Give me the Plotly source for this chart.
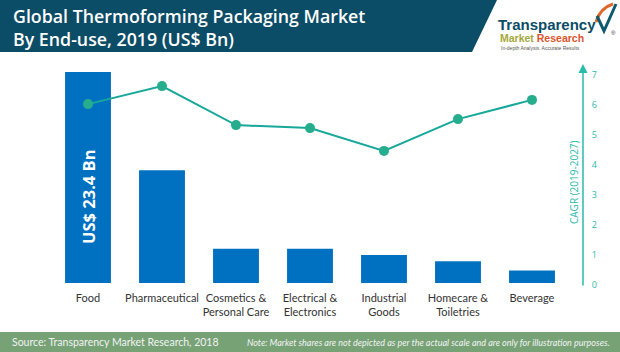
import plotly.graph_objects as go

categories = ["Food", "Pharmaceutical", "Cosmetics &<br>Personal Care", "Electrical &<br>Electronics",
              "Industrial<br>Goods", "Homecare &<br>Toiletries", "Beverage"]
market_value = [23.4, 12.5, 3.8, 3.8, 3.1, 2.4, 1.4]   # US$ Bn (illustrative scale)
cagr = [6.03, 6.63, 5.33, 5.23, 4.47, 5.53, 6.17]       # % CAGR 2019-2027
cagr_ticks = [0, 1, 2, 3, 4, 5, 6, 7]

W, H = 620, 352
ML, MR, MT, MB = 51, 37, 60, 62
PW, PH = W - ML - MR, H - MT - MB


def px(x):
    return (x - ML) / PW


def py(y):
    return (H - MB - y) / PH


BAR = "#0070C0"
TEAL = "#17A89B"
TEAL_M = "#26AD8E"
TEAL_AX = "#2BBBAA"
HEADER = "#0B4C66"
FOOTER = "#76A276"

fig = go.Figure()
fig.add_trace(go.Bar(x=categories, y=market_value, marker=dict(color=BAR, line=dict(width=0)),
                     yaxis="y", hoverinfo="skip"))
fig.add_trace(go.Scatter(x=categories, y=cagr, yaxis="y2", mode="lines+markers",
                         line=dict(color=TEAL, width=2),
                         marker=dict(color=TEAL_M, size=10)))

shapes = [
    dict(type="path", xref="paper", yref="paper", layer="below",
         path=f"M {px(0)},{py(0)} L {px(497)},{py(0)} L {px(472)},{py(52)} L {px(0)},{py(52)} Z",
         fillcolor=HEADER, line=dict(width=0)),
    dict(type="rect", xref="paper", yref="paper", layer="below",
         x0=px(0), x1=px(620), y0=py(332), y1=py(352), fillcolor=FOOTER, line=dict(width=0)),
    # logo check mark
    dict(type="path", xref="paper", yref="paper",
         path=f"M {px(596)},{py(22)} Q {px(600)},{py(8)} {px(613)},{py(4)}",
         line=dict(color="#E0662A", width=3)),
    dict(type="path", xref="paper", yref="paper",
         path=f"M {px(597)},{py(16)} L {px(604)},{py(31)} L {px(616)},{py(4)}",
         line=dict(color="#0B5A6E", width=3)),
]

annotations = [
    dict(text="Global Thermoforming Packaging Market<br>By End-use, 2019 (US$ Bn)",
         xref="paper", yref="paper", x=px(11), y=py(2), xanchor="left", yanchor="top",
         align="left", showarrow=False,
         font=dict(family="Open Sans", size=17.8, color="white", weight=600)),
    dict(text="<b>Transparency</b>", xref="paper", yref="paper", x=px(496), y=py(24),
         xanchor="left", yanchor="middle", showarrow=False,
         font=dict(family="Liberation Sans", size=15, color="#0B4C66")),
    dict(text="<b><span style='color:#A3A83C'>Market</span> <span style='color:#D9542C'>Research</span></b>",
         xref="paper", yref="paper", x=px(498), y=py(38), xanchor="left", yanchor="middle",
         showarrow=False, font=dict(family="Liberation Sans", size=10.5)),
    dict(text="In-depth Analysis. Accurate Results", xref="paper", yref="paper", x=px(499), y=py(48),
         xanchor="left", yanchor="middle", showarrow=False,
         font=dict(family="Liberation Sans", size=5, color="#555555")),
    dict(text="®", xref="paper", yref="paper", x=px(613), y=py(33), xanchor="center", yanchor="middle",
         showarrow=False, font=dict(family="Liberation Sans", size=6, color="#333333")),
    dict(text="<b>US$ 23.4 Bn</b>", xref="x", yref="paper", x=categories[0], y=py(197),
         textangle=-90, showarrow=False, xanchor="center", yanchor="middle",
         font=dict(family="Open Sans", size=16.5, color="white")),
    dict(text="CAGR (2019-2027)", xref="paper", yref="paper", x=px(574), y=py(182),
         textangle=-90, showarrow=False, xanchor="center", yanchor="middle",
         font=dict(family="Open Sans", size=10, color=TEAL_AX)),
    dict(text="", xref="paper", yref="y2", x=1, y=(285 - 64) / 30, ax=0, ay=223,
         showarrow=True, arrowhead=2, arrowsize=1.2, arrowwidth=1.5, arrowcolor=TEAL_AX),
    dict(text="Source: Transparency Market Research, 2018", xref="paper", yref="paper",
         x=px(10), y=py(342), xanchor="left", yanchor="middle", showarrow=False,
         font=dict(family="Lato", size=10.5, color="#F2F2F2")),
    dict(text="<i>Note: Market shares are not depicted as per the actual scale and are only for illustration purposes.</i>",
         xref="paper", yref="paper", x=px(612), y=py(342), xanchor="right", yanchor="middle",
         showarrow=False, font=dict(family="Lato", size=9, color="#F2F2F2")),
]

fig.update_layout(
    width=W, height=H, margin=dict(l=ML, r=MR, t=MT, b=MB, autoexpand=False),
    paper_bgcolor="white", plot_bgcolor="white", showlegend=False,
    bargap=0.38,
    xaxis=dict(domain=[0, 518 / PW], showgrid=False, showline=False, ticks="",
               tickangle=0, automargin=False,
               tickfont=dict(family="Lato", size=11, color="#333333"), fixedrange=True),
    yaxis=dict(range=[-7 / 9.017, 223 / 9.017], visible=False, fixedrange=True, automargin=False),
    yaxis2=dict(range=[-5 / 30, 7.5], overlaying="y", anchor="free", position=1, side="right",
                tickvals=cagr_ticks, showgrid=False, zeroline=False, showline=False,
                ticks="outside", ticklen=6, tickcolor="rgba(0,0,0,0)", automargin=False,
                tickfont=dict(family="Open Sans", size=9, color=TEAL_AX), fixedrange=True),
    shapes=shapes, annotations=annotations,
)

fig.write_html("out.html")
